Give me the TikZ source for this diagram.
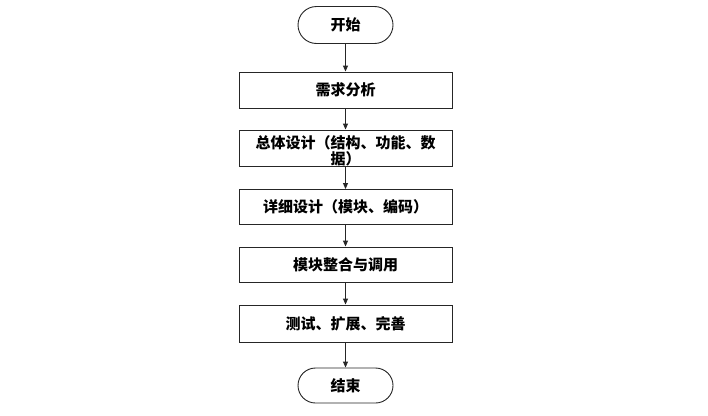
\documentclass[tikz,border=0pt]{standalone}
\usepackage{fontspec}
\newfontfamily\cjk{Noto Sans CJK SC}
\usetikzlibrary{shapes.misc,arrows.meta}
\begin{document}
\begin{tikzpicture}[x=1pt,y=-1pt,
  base/.style={draw=black!85,line width=0.9pt,inner sep=0pt,font=\cjk\bfseries\fontsize{15}{16}\selectfont,text=black,align=center},
  term/.style={base,rounded rectangle,minimum width=95pt,minimum height=37pt},
  proc/.style={base,rectangle,minimum width=213pt,minimum height=36pt},
  conn/.style={draw=black!85,line width=0.9pt,-{Triangle[length=6pt,width=5pt]}}]
\useasboundingbox[fill=white] (0,0) rectangle (708,415);
\node[term] (start) at (345.5,25) {开始};
\node[proc] (b1) at (345.5,90) {需求分析};
\node[proc] (b2) at (345.5,148) {};
\node[font=\cjk\bfseries\fontsize{15}{16}\selectfont,align=center,inner sep=0pt] (b2t) at (345.5,151) {总体设计（结构、功能、数\\据）};
\node[proc,minimum height=35pt] (b3) at (345.5,207) {详细设计（模块、编码）};
\node[proc,minimum height=35pt] (b4) at (345.5,264.5) {模块整合与调用};
\node[proc,minimum height=37pt] (b5) at (345.5,323.5) {测试、扩展、完善};
\node[term,minimum height=35pt] (end) at (345.5,385.5) {结束};
\draw[conn] (start) -- (b1);
\draw[conn] (b1) -- (b2);
\draw[conn] (b2) -- (b3);
\draw[conn] (b3) -- (b4);
\draw[conn] (b4) -- (b5);
\draw[conn] (b5) -- (end);
\end{tikzpicture}
\end{document}
